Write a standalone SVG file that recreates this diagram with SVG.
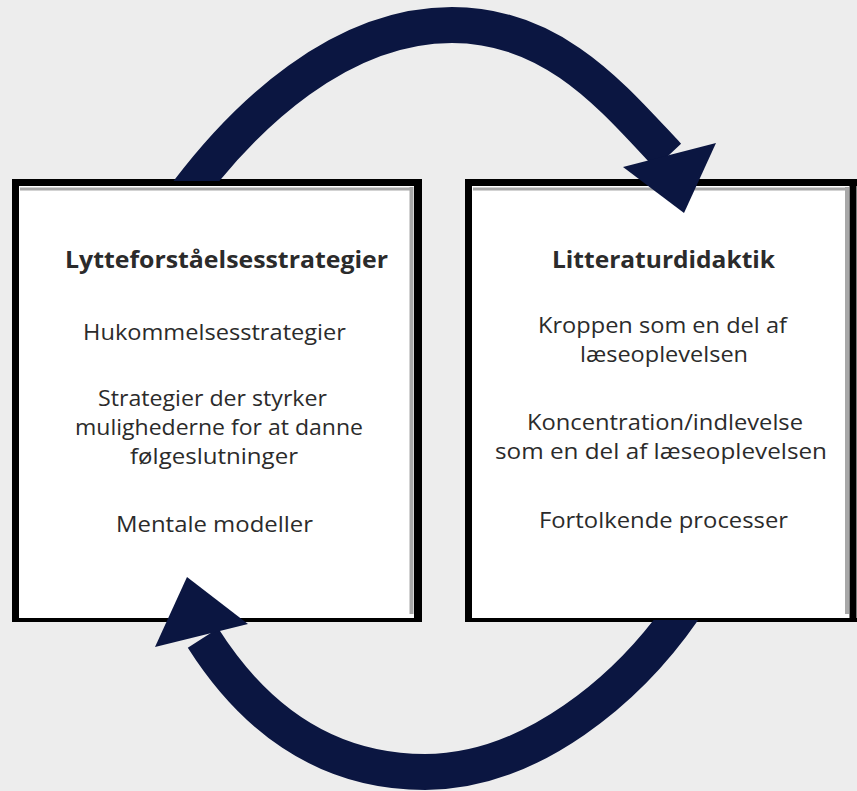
<svg xmlns="http://www.w3.org/2000/svg" width="857" height="791" viewBox="0 0 857 791">
  <defs>
    <style>
      .bg { fill: #ededed; }
      .paper { fill: #ffffff; }
      .edge { stroke: #000000; fill: none; }
      .shade { stroke: #a8a8a8; fill: none; }
      .title { font-family: "Open Sans", "Liberation Sans", sans-serif; font-size: 22.5px; font-weight: bold; fill: #2b2b2b; }
      .item { font-family: "Open Sans", "Liberation Sans", sans-serif; font-size: 21px; fill: #2b2b2b; }
      .arrow-body { fill: none; stroke: #0b1641; stroke-width: 36; }
      .arrow-head { fill: #0b1641; }
    </style>
    <linearGradient id="bottomShade" x1="0" y1="0" x2="1" y2="0">
      <stop offset="0" stop-color="#bdbdbd"/>
      <stop offset="0.5" stop-color="#8f8f8f"/>
      <stop offset="1" stop-color="#b5b5b5"/>
    </linearGradient>
    <clipPath id="clipTop"><rect x="0" y="0" width="857" height="181"/></clipPath>
    <clipPath id="clipBottom"><rect x="0" y="620" width="857" height="171"/></clipPath>
  </defs>

  <rect class="bg" x="0" y="0" width="857" height="791"/>

  <g id="node-lytteforstaaelse">
    <rect class="paper" x="12" y="179" width="410" height="443"/>
    <path class="shade" d="M20,189 H412" stroke-width="3"/>
    <path class="shade" d="M411.5,187 V614" stroke-width="4" stroke="#9a9a9a"/>
    <path d="M20,614 H412" stroke="url(#bottomShade)" stroke-width="5" fill="none"/>
    <path class="edge" d="M12,182.5 H422" stroke-width="7"/>
    <path class="edge" d="M15.5,179 V622" stroke-width="7"/>
    <path class="edge" d="M418,179 V622" stroke-width="8"/>
    <path class="edge" d="M12,620 H422" stroke-width="4"/>
    <text class="title" x="65" y="268" textLength="323" lengthAdjust="spacingAndGlyphs">Lytteforståelsesstrategier</text>
    <text class="item" x="83" y="340" textLength="263" lengthAdjust="spacingAndGlyphs">Hukommelsesstrategier</text>
    <text class="item" x="98" y="406" textLength="229" lengthAdjust="spacingAndGlyphs">Strategier der styrker</text>
    <text class="item" x="75" y="435" textLength="288" lengthAdjust="spacingAndGlyphs">mulighederne for at danne</text>
    <text class="item" x="130" y="464" textLength="168" lengthAdjust="spacingAndGlyphs">følgeslutninger</text>
    <text class="item" x="116" y="532" textLength="197" lengthAdjust="spacingAndGlyphs">Mentale modeller</text>
  </g>

  <g id="node-litteraturdidaktik">
    <rect class="paper" x="465" y="179" width="392" height="443"/>
    <path class="shade" d="M473,189 H848" stroke-width="3"/>
    <path class="shade" d="M847,187 V614" stroke-width="4" stroke="#9a9a9a"/>
    <path d="M473,613 H848" stroke="url(#bottomShade)" stroke-width="6" fill="none"/>
    <path class="edge" d="M465,182.5 H857" stroke-width="7"/>
    <path class="edge" d="M468.5,179 V622" stroke-width="7"/>
    <path class="edge" d="M853,179 V622" stroke-width="7" stroke="#1a1a1a"/>
    <path class="edge" d="M465,620 H857" stroke-width="4"/>
    <text class="title" x="552" y="268" textLength="223" lengthAdjust="spacingAndGlyphs">Litteraturdidaktik</text>
    <text class="item" x="538" y="333" textLength="249" lengthAdjust="spacingAndGlyphs">Kroppen som en del af</text>
    <text class="item" x="580" y="362" textLength="168" lengthAdjust="spacingAndGlyphs">læseoplevelsen</text>
    <text class="item" x="527" y="430" textLength="276" lengthAdjust="spacingAndGlyphs">Koncentration/indlevelse</text>
    <text class="item" x="495" y="459" textLength="332" lengthAdjust="spacingAndGlyphs">som en del af læseoplevelsen</text>
    <text class="item" x="539" y="528" textLength="249" lengthAdjust="spacingAndGlyphs">Fortolkende processer</text>
  </g>

  <g id="connectors">
    <g id="arrow-top">
      <path class="arrow-body" clip-path="url(#clipTop)" d="M184,197 C245,115 340,25 452,25 C555,25 615,100 668,156"/>
      <polygon class="arrow-head" points="623,167 716,143 684,213"/>
    </g>
    <g id="arrow-bottom">
      <path class="arrow-body" clip-path="url(#clipBottom)" d="M688,603 C630,690 530,772 425,772 C320,772 250,712 203,638"/>
      <polygon class="arrow-head" points="155,647 248,624 187,577"/>
    </g>
  </g>
</svg>
